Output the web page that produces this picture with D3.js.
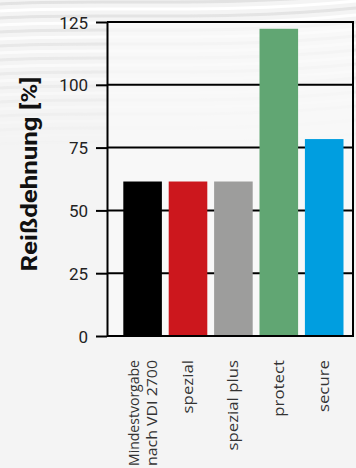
<!DOCTYPE html>
<html>
<head>
<meta charset="utf-8">
<script src="https://cdn.jsdelivr.net/npm/d3@7"></script>
<style>
  body { margin: 0; background: #f4f4f4; }
  svg { display: block; }
  .tick text { font-family: Roboto, sans-serif; }
</style>
</head>
<body>
<svg width="356" height="468"></svg>
<script>
const categories = ['Mindestvorgabe|nach VDI 2700', 'spezial', 'spezial plus', 'protect', 'secure']
const values = [61.5, 61.5, 61.5, 122.3, 78.4]
const barColors = ['#000000', '#cc171d', '#9d9d9c', '#61a673', '#009ee0']
const yTicks = [0, 25, 50, 75, 100, 125]
const yTitle = 'Reißdehnung [%]'

const svg = d3.select('svg'),
    width = +svg.attr('width'),
    height = +svg.attr('height')

const plotLeft = 107, plotRight = 353, plotTop = 22, plotBottom = 336

// background texture at the top
const defs = svg.append('defs')
const fade = defs.append('linearGradient')
    .attr('id', 'fade').attr('x1', 0).attr('y1', 0).attr('x2', 0).attr('y2', 1)
fade.append('stop').attr('offset', 0).attr('stop-color', '#fff').attr('stop-opacity', 1)
fade.append('stop').attr('offset', 1).attr('stop-color', '#fff').attr('stop-opacity', 0)
defs.append('mask').attr('id', 'fadeMask')
    .append('rect').attr('width', width).attr('height', 150).attr('fill', 'url(#fade)')

svg.append('rect').attr('width', width).attr('height', height).attr('fill', '#f4f4f4')
const waves = svg.append('g').attr('mask', 'url(#fadeMask)')
for (let i = 0; i < 22; i++) {
    let y0 = i * 7
    waves.append('path')
        .attr('d', `M0,${y0 + 4} C90,${y0 - 2} 220,${y0 + 8} 356,${y0 - 6}`)
        .attr('fill', 'none')
        .attr('stroke', i % 2 ? '#ffffff' : '#e2e2e2')
        .attr('stroke-width', 3)
}

const x = d3.scaleBand()
    .domain(categories)
    .range([119.9, 346.9])
    .paddingInner(0.15)
    .paddingOuter(0.075)

const y = d3.scaleLinear()
    .domain([0, 125])
    .range([plotBottom, plotTop])

// plot area
svg.append('rect')
    .attr('x', plotLeft).attr('y', plotTop)
    .attr('width', plotRight - plotLeft).attr('height', plotBottom - plotTop)
    .attr('fill', '#fafafa').attr('fill-opacity', 0.7)

// gridlines (behind the bars)
svg.selectAll('.grid')
    .data(yTicks)
    .enter()
    .append('line')
    .attr('class', 'grid')
    .attr('x1', plotLeft).attr('x2', plotRight)
    .attr('y1', d => y(d)).attr('y2', d => y(d))
    .attr('stroke', '#000').attr('stroke-width', 2)

// bars
svg.selectAll('.bar')
    .data(categories)
    .enter()
    .append('rect')
    .attr('class', 'bar')
    .attr('x', d => x(d))
    .attr('width', x.bandwidth())
    .attr('y', (d, i) => y(values[i]))
    .attr('height', (d, i) => y(0) - y(values[i]) - 1)
    .attr('fill', (d, i) => barColors[i])

// frame right side
svg.append('line')
    .attr('x1', plotRight).attr('x2', plotRight)
    .attr('y1', plotTop - 1).attr('y2', plotBottom + 1)
    .attr('stroke', '#000').attr('stroke-width', 2)

// y axis
const yAxis = svg.append('g')
    .attr('transform', `translate(${plotLeft},0)`)
    .call(d3.axisLeft(y).tickValues(yTicks).tickSize(11).tickSizeOuter(0).tickPadding(8))
yAxis.select('.domain').attr('stroke', '#000').attr('stroke-width', 2)
yAxis.selectAll('.tick line').attr('stroke', '#000').attr('stroke-width', 2)
yAxis.selectAll('.tick text')
    .attr('fill', '#222')
    .style('font-size', '17px')
    .attr('dy', '0.36em')

// x axis labels
const labelScale = 1.2, maxLabel = 106
const xAxis = svg.append('g')
    .attr('transform', `translate(0,${plotBottom})`)
    .call(d3.axisBottom(x).tickSize(0).tickSizeOuter(0))
xAxis.select('.domain').remove()
xAxis.selectAll('.tick text').each(function (d) {
    const t = d3.select(this)
    const lines = d.split('|')
    t.text(null)
        .attr('y', 0)
        .attr('x', 0)
        .attr('dy', null)
        .attr('text-anchor', 'end')
        .attr('fill', '#333')
        .style('font-family', '"Open Sans", sans-serif')
        .style('font-size', '14px')
        .attr('transform', `translate(0,24) rotate(-90) scale(${labelScale},1)`)
    lines.forEach((l, i) => {
        const ts = t.append('tspan')
            .attr('x', 0)
            .attr('y', (i - (lines.length - 1) / 2) * 18 + 5)
            .text(l)
        const len = ts.node().getComputedTextLength()
        if (len * labelScale > maxLabel) {
            ts.attr('textLength', maxLabel / labelScale).attr('lengthAdjust', 'spacingAndGlyphs')
        }
    })
})

// y title
svg.append('text')
    .attr('transform', `translate(37,174) rotate(-90)`)
    .attr('text-anchor', 'middle')
    .style('font-family', 'Roboto, sans-serif')
    .style('font-weight', 'bold')
    .style('font-size', '22px')
    .attr('textLength', 195)
    .attr('lengthAdjust', 'spacingAndGlyphs')
    .attr('fill', '#111')
    .text(yTitle)
</script>
</body>
</html>
